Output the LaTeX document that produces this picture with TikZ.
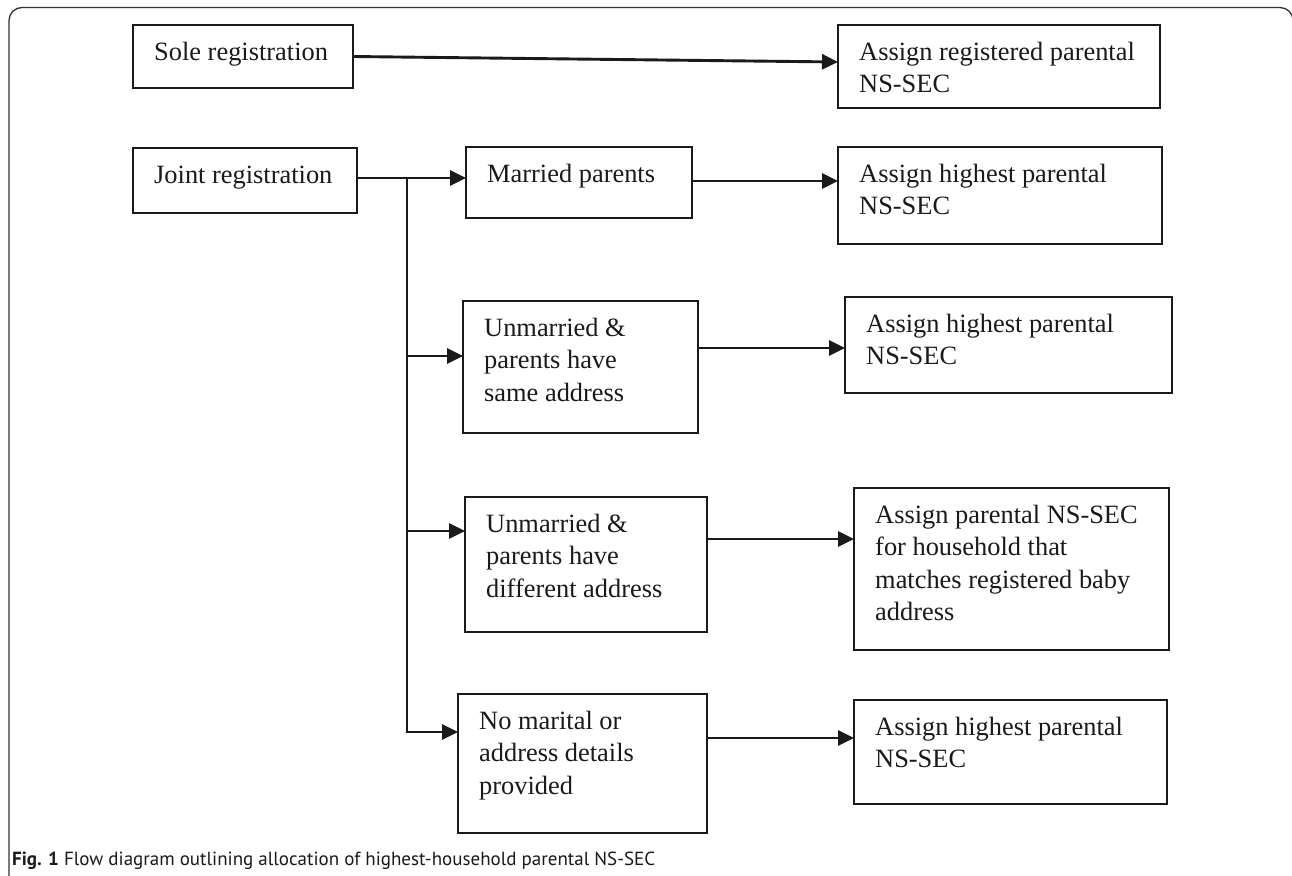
\documentclass[tikz,border=0pt]{standalone}
\usepackage{fontspec}
\setmainfont{Liberation Serif}
\newfontfamily\capfont{PT Sans}
\usetikzlibrary{arrows.meta,calc}
\definecolor{ink}{HTML}{1A1A1A}
\definecolor{framecol}{HTML}{333333}
\newcommand\mybox[6]{%
  \node[box, minimum width={#4pt-#2pt}, minimum height={#5pt-#3pt}] (#1) at (#2,#3) {};
  \node[txt] (#1t) at ([xshift=21pt,yshift=-35.5pt]#1.north west) {\parbox[t]{12cm}{\raggedright #6}};
}
\begin{document}
\begin{tikzpicture}[x=1pt,y=-1pt,
  box/.style={draw=ink, line width=2pt, anchor=north west, inner sep=0pt, outer sep=0pt},
  txt/.style={anchor=base west, inner sep=0pt, font=\fontsize{26.4}{32.3}\selectfont, text=ink},
  conn/.style={draw=ink, line width=2.9pt},
  arr/.style={conn, -{Triangle[length=16pt,width=15pt]}},
]
\useasboundingbox (0,0) rectangle (1292,875);
\fill[white] (0,0) rectangle (1292,875);
% outer frame
\draw[framecol, line width=1.3pt, rounded corners=13pt] (9,880) -- (9,7.5) -- (1293,7.5) -- (1293,880);

\mybox{sole}{133}{25}{353}{88}{Sole registration}
\mybox{reg}{838}{25}{1160}{108}{Assign registered parental\\NS-SEC}
\mybox{joint}{133}{148}{357}{213}{Joint registration}
\mybox{married}{466}{147}{692}{218}{Married parents}
\mybox{high1}{838}{147}{1162}{244}{Assign highest parental\\NS-SEC}
\mybox{same}{463}{301}{698}{433}{Unmarried \&\\parents have\\same address}
\mybox{high2}{845}{297}{1172}{393}{Assign highest parental\\NS-SEC}
\mybox{diff}{465}{497}{707}{632}{Unmarried \&\\parents have\\different address}
\mybox{house}{854}{488}{1169}{650}{Assign parental NS-SEC\\for household that\\matches registered baby\\address}
\mybox{nomar}{458}{694}{707}{833}{No marital or\\address details\\provided}
\mybox{high3}{854}{700}{1167}{804}{Assign highest parental\\NS-SEC}

% connectors
\draw[arr] (sole.east) -- ([yshift=4.5pt]reg.west);
\coordinate (trunk) at (407,178);
\coordinate (trunkend) at (407,732);
\coordinate (b2) at (407,356);
\coordinate (b3) at (407,531);
\draw[arr] (joint.east |- trunk) -- (trunk -| married.west);
\draw[arr] (trunk) -- (trunkend) -- (trunkend -| nomar.west);
\draw[arr] (b2) -- (b2 -| same.west);
\draw[arr] (b3) -- (b3 -| diff.west);
\draw[arr] ([yshift=1.5pt]married.east) coordinate (m1) -- (m1 -| high1.west);
\draw[arr] ([yshift=19pt]same.east) coordinate (m2) -- (m2 -| high2.west);
\draw[arr] ([yshift=25.5pt]diff.east) coordinate (m3) -- (m3 -| house.west);
\draw[arr] ([yshift=25.5pt]nomar.east) coordinate (m4) -- (m4 -| high3.west);

% caption
\node[anchor=base west, inner sep=0pt, text=ink, font=\capfont\fontsize{19}{22}\selectfont] (cap) at (12,865) {\textbf{Fig. 1} Flow diagram outlining allocation of highest-household parental NS-SEC};
\end{tikzpicture}
\end{document}
